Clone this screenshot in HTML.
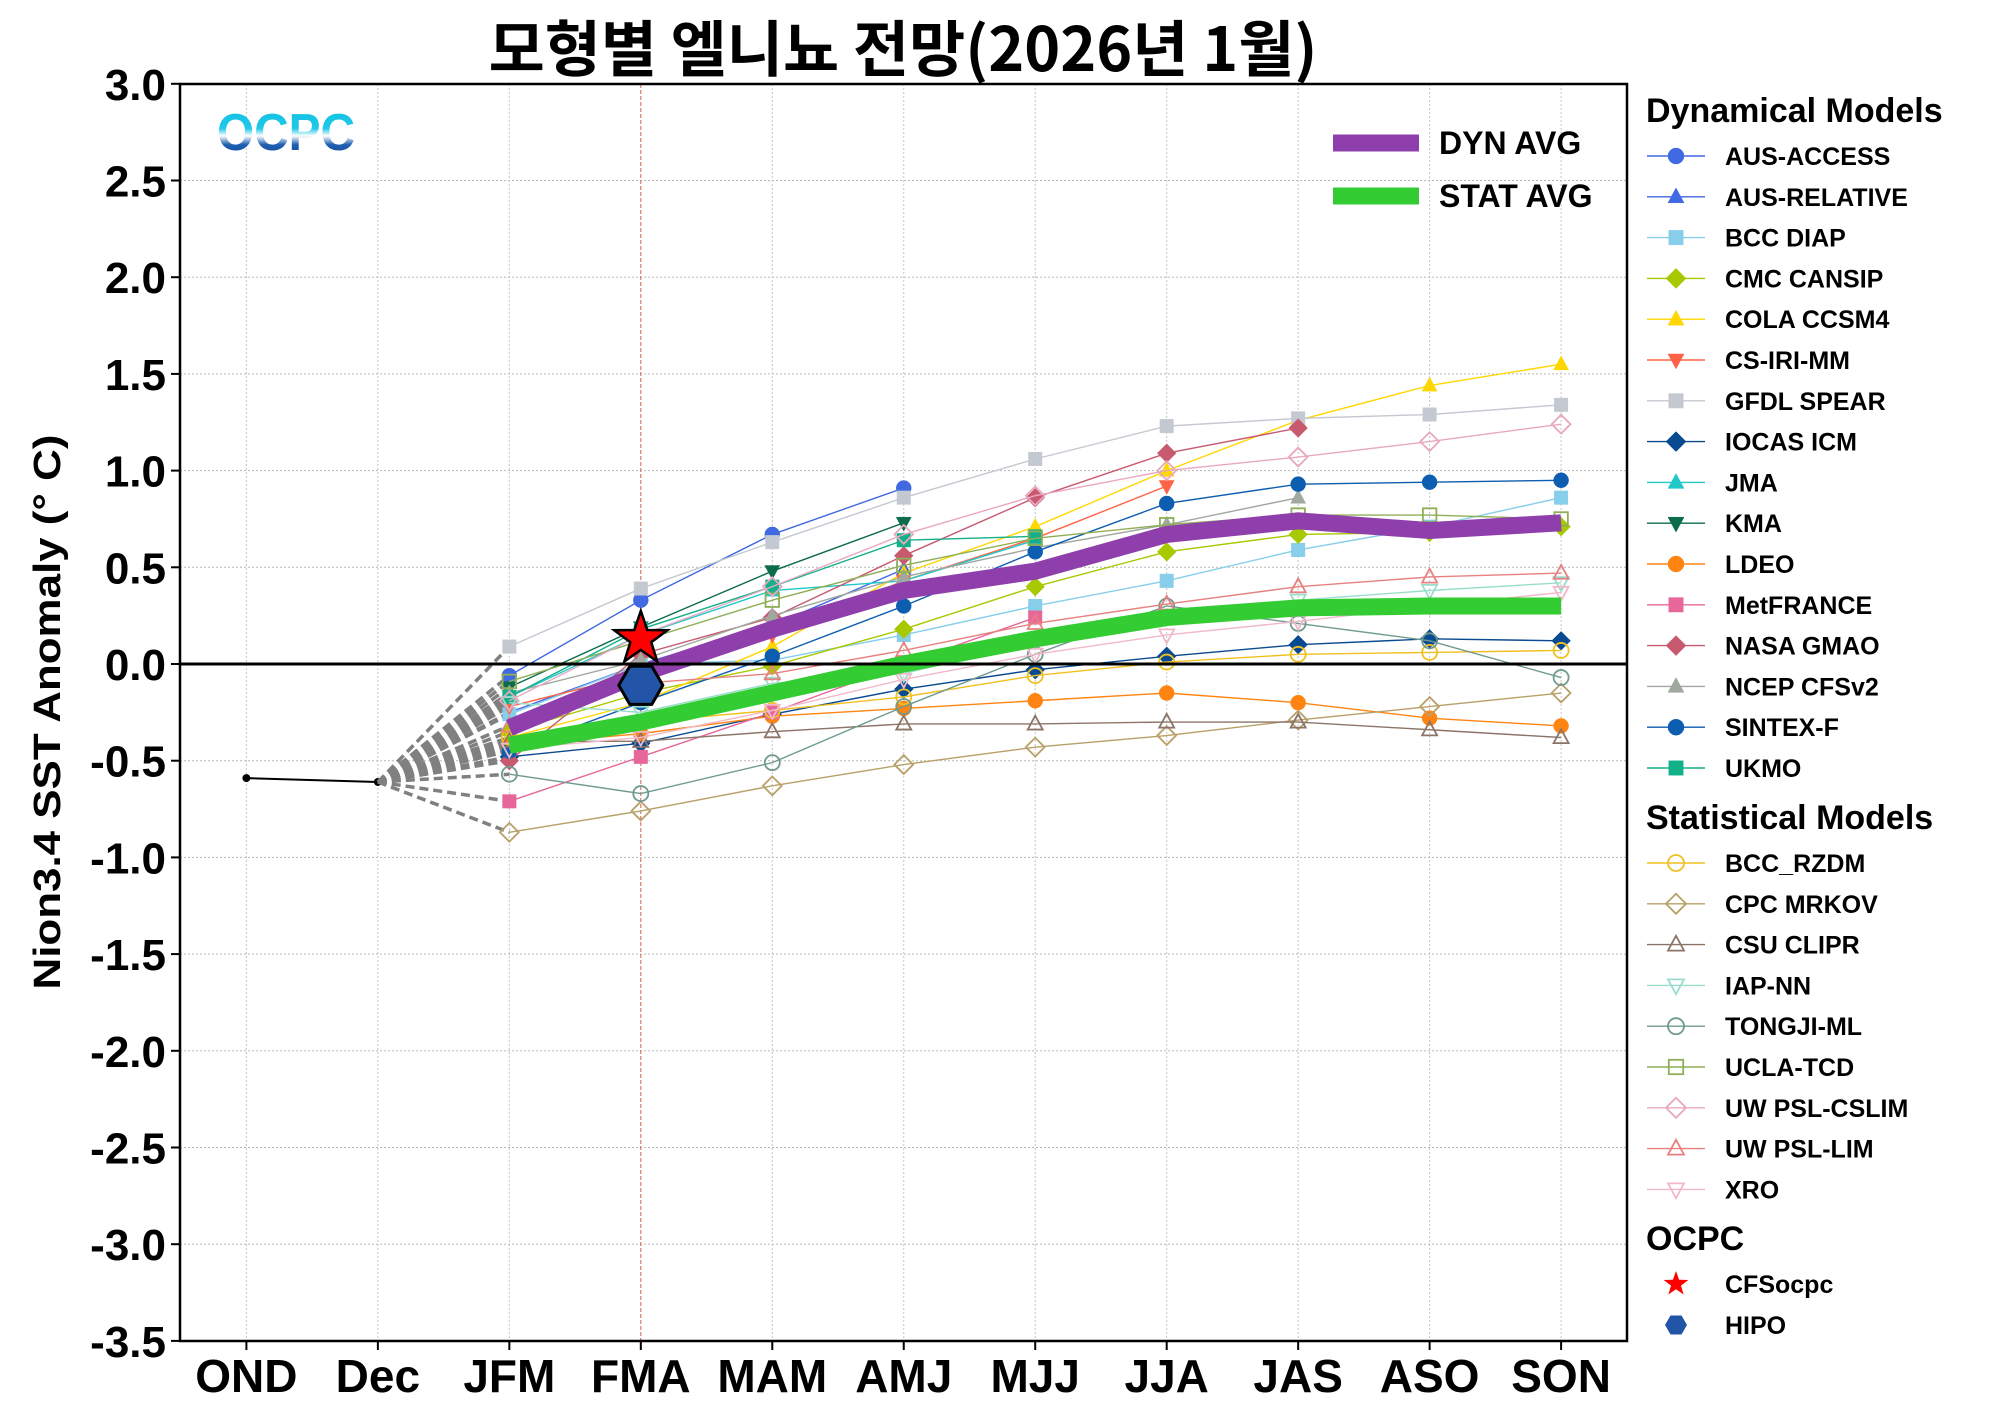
<!DOCTYPE html>
<html><head><meta charset="utf-8">
<style>
html,body{margin:0;padding:0;background:#fff;}
svg{display:block;font-family:"Liberation Sans","Noto Sans CJK KR",sans-serif;}
</style></head>
<body>
<svg id="chart" width="2000" height="1416" viewBox="0 0 2000 1416" xmlns="http://www.w3.org/2000/svg">
<defs>
<linearGradient id="logoGrad" x1="0" y1="0" x2="0" y2="1">
<stop offset="0" stop-color="#10c0e0"/><stop offset="0.42" stop-color="#20c8e8"/><stop offset="0.55" stop-color="#ffffff"/><stop offset="0.7" stop-color="#2060b0"/><stop offset="1" stop-color="#0a3f98"/>
</linearGradient>
</defs>
<g id="grid"></g>
<g id="series"></g>
<g id="axes"></g>
<g id="legend"></g>
<text x="903" y="71" text-anchor="middle" font-size="61" font-weight="bold" font-family="'Noto Sans CJK KR','Liberation Sans',sans-serif">모형별 엘니뇨 전망(2026년 1월)</text>
<text transform="translate(60,712) rotate(-90)" text-anchor="middle" font-size="38" font-weight="bold" textLength="555" lengthAdjust="spacingAndGlyphs">Nion3.4 SST Anomaly (° C)</text>
<text x="217" y="150" font-size="52" font-weight="bold" fill="url(#logoGrad)" textLength="138" lengthAdjust="spacingAndGlyphs">OCPC</text>
</svg>
<script>
const seasons = ['OND','Dec','JFM','FMA','MAM','AMJ','MJJ','JJA','JAS','ASO','SON'];
const yTicks = [3.0,2.5,2.0,1.5,1.0,0.5,0.0,-0.5,-1.0,-1.5,-2.0,-2.5,-3.0,-3.5];
const observed = [-0.59,-0.61];
const dynNames = ['AUS-ACCESS','AUS-RELATIVE','BCC DIAP','CMC CANSIP','COLA CCSM4','CS-IRI-MM','GFDL SPEAR','IOCAS ICM','JMA','KMA','LDEO','MetFRANCE','NASA GMAO','NCEP CFSv2','SINTEX-F','UKMO'];
const ausAccess   = [-0.06,0.33,0.67,0.91];
const ausRelative = [-0.25,0.00,0.20,0.49];
const bccDiap     = [-0.26,0.00,0.02,0.15,0.30,0.43,0.59,0.71,0.86];
const cmcCansip   = [-0.35,-0.15,-0.01,0.18,0.40,0.58,0.67,0.68,0.71];
const colaCcsm4   = [-0.38,-0.20,0.09,0.47,0.71,1.00,1.26,1.44,1.55];
const csIriMm     = [-0.22,-0.05,0.15,0.43,0.65,0.92];
const gfdlSpear   = [0.09,0.39,0.63,0.86,1.06,1.23,1.27,1.29,1.34];
const iocasIcm    = [-0.48,-0.41,-0.26,-0.13,-0.03,0.04,0.10,0.13,0.12];
const jma         = [-0.17,0.15,0.38,0.43,0.64];
const kma         = [-0.12,0.19,0.48,0.73];
const ldeo        = [-0.42,-0.36,-0.27,-0.23,-0.19,-0.15,-0.20,-0.28,-0.32];
const metFrance   = [-0.71,-0.48,-0.25,0.00,0.24];
const nasaGmao    = [-0.50,0.05,0.24,0.56,0.86,1.09,1.22];
const ncepCfsv2   = [-0.15,0.02,0.25,0.45,0.60,0.72,0.86];
const sintexF     = [-0.45,-0.20,0.04,0.30,0.58,0.83,0.93,0.94,0.95];
const ukmo        = [-0.17,0.18,0.40,0.64,0.66];
const statNames = ['BCC_RZDM','CPC MRKOV','CSU CLIPR','IAP-NN','TONGJI-ML','UCLA-TCD','UW PSL-CSLIM','UW PSL-LIM','XRO'];
const bccRzdm    = [-0.38,-0.30,-0.24,-0.17,-0.06,0.01,0.05,0.06,0.07];
const cpcMrkov   = [-0.87,-0.76,-0.63,-0.52,-0.43,-0.37,-0.29,-0.22,-0.15];
const csuClipr   = [-0.40,-0.40,-0.35,-0.31,-0.31,-0.30,-0.30,-0.34,-0.38];
const iapNn      = [-0.20,-0.25,-0.10,-0.05,0.12,0.25,0.33,0.38,0.42];
const tongjiMl   = [-0.57,-0.67,-0.51,-0.22,0.05,0.30,0.21,0.12,-0.07];
const uclaTcd    = [-0.09,0.12,0.33,0.51,0.65,0.72,0.77,0.77,0.75];
const uwCslim    = [-0.19,0.15,0.40,0.67,0.87,1.00,1.07,1.15,1.24];
const uwLim      = [-0.32,-0.10,-0.05,0.07,0.21,0.31,0.40,0.45,0.47];
const xro        = [-0.44,-0.38,-0.24,-0.08,0.05,0.15,0.22,0.30,0.37];
const dynAvg  = [-0.33,-0.05,0.18,0.38,0.48,0.67,0.74,0.69,0.73];
const statAvg = [-0.42,-0.30,-0.15,0.00,0.13,0.24,0.29,0.30,0.30];
const cfsOcpc = [0.13];
const hipo    = [-0.11];

const NS='http://www.w3.org/2000/svg';
const L=180,R=1627,T=84,B=1341;
function xS(i){return 246.4+i*131.47;}
function yS(v){return 664-v*193.4;}
function mk(tag,attrs,parent){const e=document.createElementNS(NS,tag);for(const k in attrs)e.setAttribute(k,attrs[k]);parent.appendChild(e);return e;}
const grid=document.getElementById('grid'),series=document.getElementById('series'),axes=document.getElementById('axes'),legend=document.getElementById('legend');

yTicks.forEach(v=>{
  const g=mk('line',{x1:L,x2:R,y1:yS(v),y2:yS(v),stroke:'#b8b8b8','stroke-width':1,'stroke-dasharray':'2,2'},grid);
  
  
  const t=mk('line',{x1:L-9,x2:L,y1:yS(v),y2:yS(v),stroke:'#000','stroke-width':2},axes);
  
  
  const lb=mk('text',{x:166,y:yS(v)+16,'text-anchor':'end','font-size':44,'font-weight':'bold'},axes);
  lb.textContent=v.toFixed(1);
  
  
});
seasons.forEach((s,i)=>{
  const red=(s==='FMA');
  const g=mk('line',{x1:xS(i),x2:xS(i),y1:T,y2:B,stroke:red?'#d06050':'#c4c4c4','stroke-width':1,'stroke-dasharray':red?'4,2':'2,2'},grid);
  
  
  const t=mk('line',{x1:xS(i),x2:xS(i),y1:B,y2:B+9,stroke:'#000','stroke-width':2},axes);
  
  
  const lb=mk('text',{x:xS(i),y:1392,'text-anchor':'middle','font-size':46,'font-weight':'bold'},axes);
  lb.textContent=s;
  
  
});
const zl=mk('line',{x1:L,x2:R,y1:yS(0),y2:yS(0),stroke:'#000','stroke-width':3},axes);


const frame=mk('rect',{x:L,y:T,width:R-L,height:B-T,fill:'none',stroke:'#000','stroke-width':2.5},axes);



function marker(type,x,y,s,fill,stroke,open,parent){
  const f=open?'none':fill, st=open?stroke:fill, sw=open?1.8:0.5;
  const h=s/2;
  if(type==='o') return mk('circle',{cx:x,cy:y,r:h,fill:f,stroke:st,'stroke-width':sw},parent);
  if(type==='s') return mk('rect',{x:x-h*0.9,y:y-h*0.9,width:s*0.9,height:s*0.9,fill:f,stroke:st,'stroke-width':sw},parent);
  if(type==='D') return mk('polygon',{points:`${x},${y-h*1.25} ${x+h*1.25},${y} ${x},${y+h*1.25} ${x-h*1.25},${y}`,fill:f,stroke:st,'stroke-width':sw},parent);
  if(type==='^') return mk('polygon',{points:`${x},${y-h*1.1} ${x+h},${y+h*0.75} ${x-h},${y+h*0.75}`,fill:f,stroke:st,'stroke-width':sw},parent);
  if(type==='v') return mk('polygon',{points:`${x},${y+h*1.1} ${x+h},${y-h*0.75} ${x-h},${y-h*0.75}`,fill:f,stroke:st,'stroke-width':sw},parent);
}
const dynData=[ausAccess,ausRelative,bccDiap,cmcCansip,colaCcsm4,csIriMm,gfdlSpear,iocasIcm,jma,kma,ldeo,metFrance,nasaGmao,ncepCfsv2,sintexF,ukmo];
const dynColors=['#4169e1','#4169e1','#87ceeb','#a8c800','#ffd700','#ff6347','#c4c8d0','#0a4a90','#20c8c8','#0b6b4b','#ff8412','#e8679a','#c85a70','#a0a8a0','#0d5db0','#14b08a'];
const dynMarkers=['o','^','s','D','^','v','s','D','^','v','o','s','D','^','o','s'];
const statData=[bccRzdm,cpcMrkov,csuClipr,iapNn,tongjiMl,uclaTcd,uwCslim,uwLim,xro];
const statColors=['#f0c020','#b8a068','#8c7468','#99ddcc','#6f9a90','#8fae58','#e8a8c0','#e88080','#f0b8c8'];
const statMarkers=['o','D','^','v','o','s','D','^','v'];

const op=observed.map((v,i)=>xS(i)+','+yS(v)).join(' ');
const obs=mk('polyline',{points:op,fill:'none',stroke:'#000','stroke-width':2},series);


observed.forEach((v,i)=>{const c=mk('circle',{cx:xS(i),cy:yS(v),r:4,fill:'#000'},series);
  
  });

const allData=dynData.concat(statData);
allData.forEach(d=>{
  const c=mk('line',{x1:xS(1),y1:yS(observed[1]),x2:xS(2),y2:yS(d[0]),stroke:'#808080','stroke-width':3.5,'stroke-dasharray':'9,5'},series);
  
  
});
function drawModel(d,color,type,open,name){
  const g=mk('g',{},series);
  
  
  const pts=d.map((v,i)=>xS(i+2)+','+yS(v)).join(' ');
  mk('polyline',{points:pts,fill:'none',stroke:color,'stroke-width':1.4},g);
  d.forEach((v,i)=>{const m=marker(type,xS(i+2),yS(v),15,color,color,open,g);
    
    });
}
dynData.forEach((d,k)=>drawModel(d,dynColors[k],dynMarkers[k],false,dynNames[k]));
statData.forEach((d,k)=>drawModel(d,statColors[k],statMarkers[k],true,statNames[k]));

function avgLine(d,color,name){
  const p=mk('polyline',{points:d.map((v,i)=>xS(i+2)+','+yS(v)).join(' '),fill:'none',stroke:color,'stroke-width':17,'stroke-linejoin':'round'},series);
  
  
}
avgLine(dynAvg,'#8e3fab','dyn-avg-line');
avgLine(statAvg,'#33cc33','stat-avg-line');

function hexPts(x,y,r){let s=[];for(let k=0;k<6;k++){const a=Math.PI/3*k;s.push((x+r*Math.cos(a))+','+(y+r*Math.sin(a)));}return s.join(' ');}
function starPts(x,y,R1,r1){let s=[];for(let k=0;k<10;k++){const a=-Math.PI/2+Math.PI/5*k;const rr=k%2?r1:R1;s.push((x+rr*Math.cos(a))+','+(y+rr*Math.sin(a)));}return s.join(' ');}
const hx=mk('polygon',{points:hexPts(xS(3),yS(hipo[0]),22),fill:'#2255a8',stroke:'#000','stroke-width':3},series);


const st=mk('polygon',{points:starPts(xS(3),yS(cfsOcpc[0]),28,11),fill:'#ff0000',stroke:'#000','stroke-width':2.5},series);



[['DYN AVG','#8e3fab',143],['STAT AVG','#33cc33',196]].forEach(a=>{
  const l=mk('line',{x1:1333,x2:1419,y1:a[2],y2:a[2],stroke:a[1],'stroke-width':17},legend);
  
  
  const t=mk('text',{x:1439,y:a[2]+11,'font-size':32,'font-weight':'bold'},legend);
  t.textContent=a[0];
  
  
});

function heading(txt,y){const t=mk('text',{x:1646,y:y,'font-size':34,'font-weight':'bold'},legend);t.textContent=txt;
  
  }
function entry(txt,y,color,type,open){
  const g=mk('g',{},legend);
  
  
  mk('line',{x1:1647,x2:1705,y1:y,y2:y,stroke:color,'stroke-width':1.4},g);
  marker(type,1676,y,16,color,color,open,g);
  const t=mk('text',{x:1725,y:y+9,'font-size':25,'font-weight':'bold'},g);t.textContent=txt;
}
heading('Dynamical Models',122);
dynNames.forEach((n,k)=>entry(n,156+k*40.8,dynColors[k],dynMarkers[k],false));
heading('Statistical Models',829);
statNames.forEach((n,k)=>entry(n,863+k*40.8,statColors[k],statMarkers[k],true));
heading('OCPC',1250);
const g1=mk('g',{},legend);


mk('polygon',{points:starPts(1676,1284,13,5.2),fill:'#ff0000'},g1);
const t1=mk('text',{x:1725,y:1293,'font-size':25,'font-weight':'bold'},g1);t1.textContent='CFSocpc';
const g2=mk('g',{},legend);


mk('polygon',{points:hexPts(1676,1325,11),fill:'#2255a8'},g2);
const t2=mk('text',{x:1725,y:1334,'font-size':25,'font-weight':'bold'},g2);t2.textContent='HIPO';
</script>
</body></html>
